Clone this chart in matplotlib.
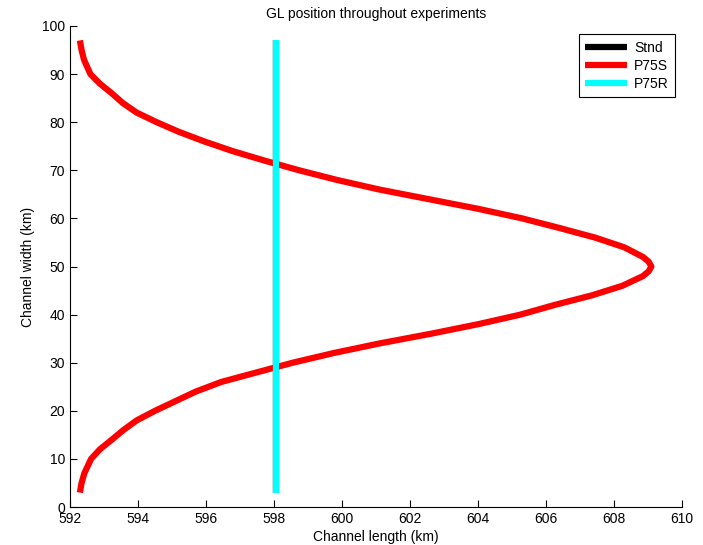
import numpy as np
import matplotlib.pyplot as plt

plt.rcParams['font.family'] = ['Liberation Sans', 'DejaVu Sans']

# P75S grounding line: channel width (km) vs channel length (km)
p75s_y = [3, 5, 7, 10, 12, 14, 16, 18, 20, 22, 24, 26, 28, 30, 32, 34, 36, 38,
          40, 42, 44, 46, 48, 49, 50, 51, 52, 54, 56, 58, 60, 62, 64, 66, 68,
          70, 72, 74, 76, 78, 80, 82, 84, 86, 88, 90, 93, 95, 97]
p75s_x = [592.29, 592.34, 592.42, 592.62, 592.88, 593.23, 593.57, 593.96,
          594.50, 595.10, 595.70, 596.45, 597.50, 598.55, 599.75, 601.10,
          602.60, 604.00, 605.25, 606.25, 607.35, 608.25, 608.85, 609.02,
          609.10, 609.02, 608.85, 608.30, 607.45, 606.40, 605.30, 604.00,
          602.55, 601.10, 599.85, 598.74, 597.73, 596.78, 595.95, 595.20,
          594.55, 593.96, 593.55, 593.23, 592.88, 592.60, 592.41, 592.34,
          592.29]

# Stnd and P75R: straight grounding line
stnd_y = [3, 97]
stnd_x = [598.05, 598.05]
p75r_y = [3, 97]
p75r_x = [598.05, 598.05]

fig = plt.figure(figsize=(7.03, 5.45), dpi=100)
ax = fig.add_axes([0.0996, 0.0697, 0.8705, 0.8826])

ax.plot(stnd_x, stnd_y, color='black', lw=4.5, solid_capstyle='butt', label='Stnd')
ax.plot(p75s_x, p75s_y, color='red', lw=4.5, solid_capstyle='butt',
        solid_joinstyle='round', label='P75S')
ax.plot(p75r_x, p75r_y, color='cyan', lw=4.5, solid_capstyle='butt', label='P75R')

ax.set_xlim(592, 610)
ax.set_ylim(0, 100)
ax.set_xticks(np.arange(592, 611, 2))
ax.set_yticks(np.arange(0, 101, 10))
ax.tick_params(direction='in', length=5, labelsize=10, width=0.8)
ax.spines['top'].set_visible(False)
ax.spines['right'].set_visible(False)

ax.set_title('GL position throughout experiments', fontsize=10, pad=6)
ax.set_xlabel('Channel length (km)', fontsize=10, labelpad=3)
ax.set_ylabel('Channel width (km)', fontsize=10, labelpad=5)

leg = ax.legend(loc='upper right', bbox_to_anchor=(1.0, 0.997), fontsize=10,
                handlelength=3.0, handletextpad=0.5, labelspacing=0.3,
                borderpad=0.45, fancybox=False, framealpha=1)
leg.get_frame().set_edgecolor('black')
leg.get_frame().set_linewidth(0.8)

fig.savefig('out.png', dpi=100)
